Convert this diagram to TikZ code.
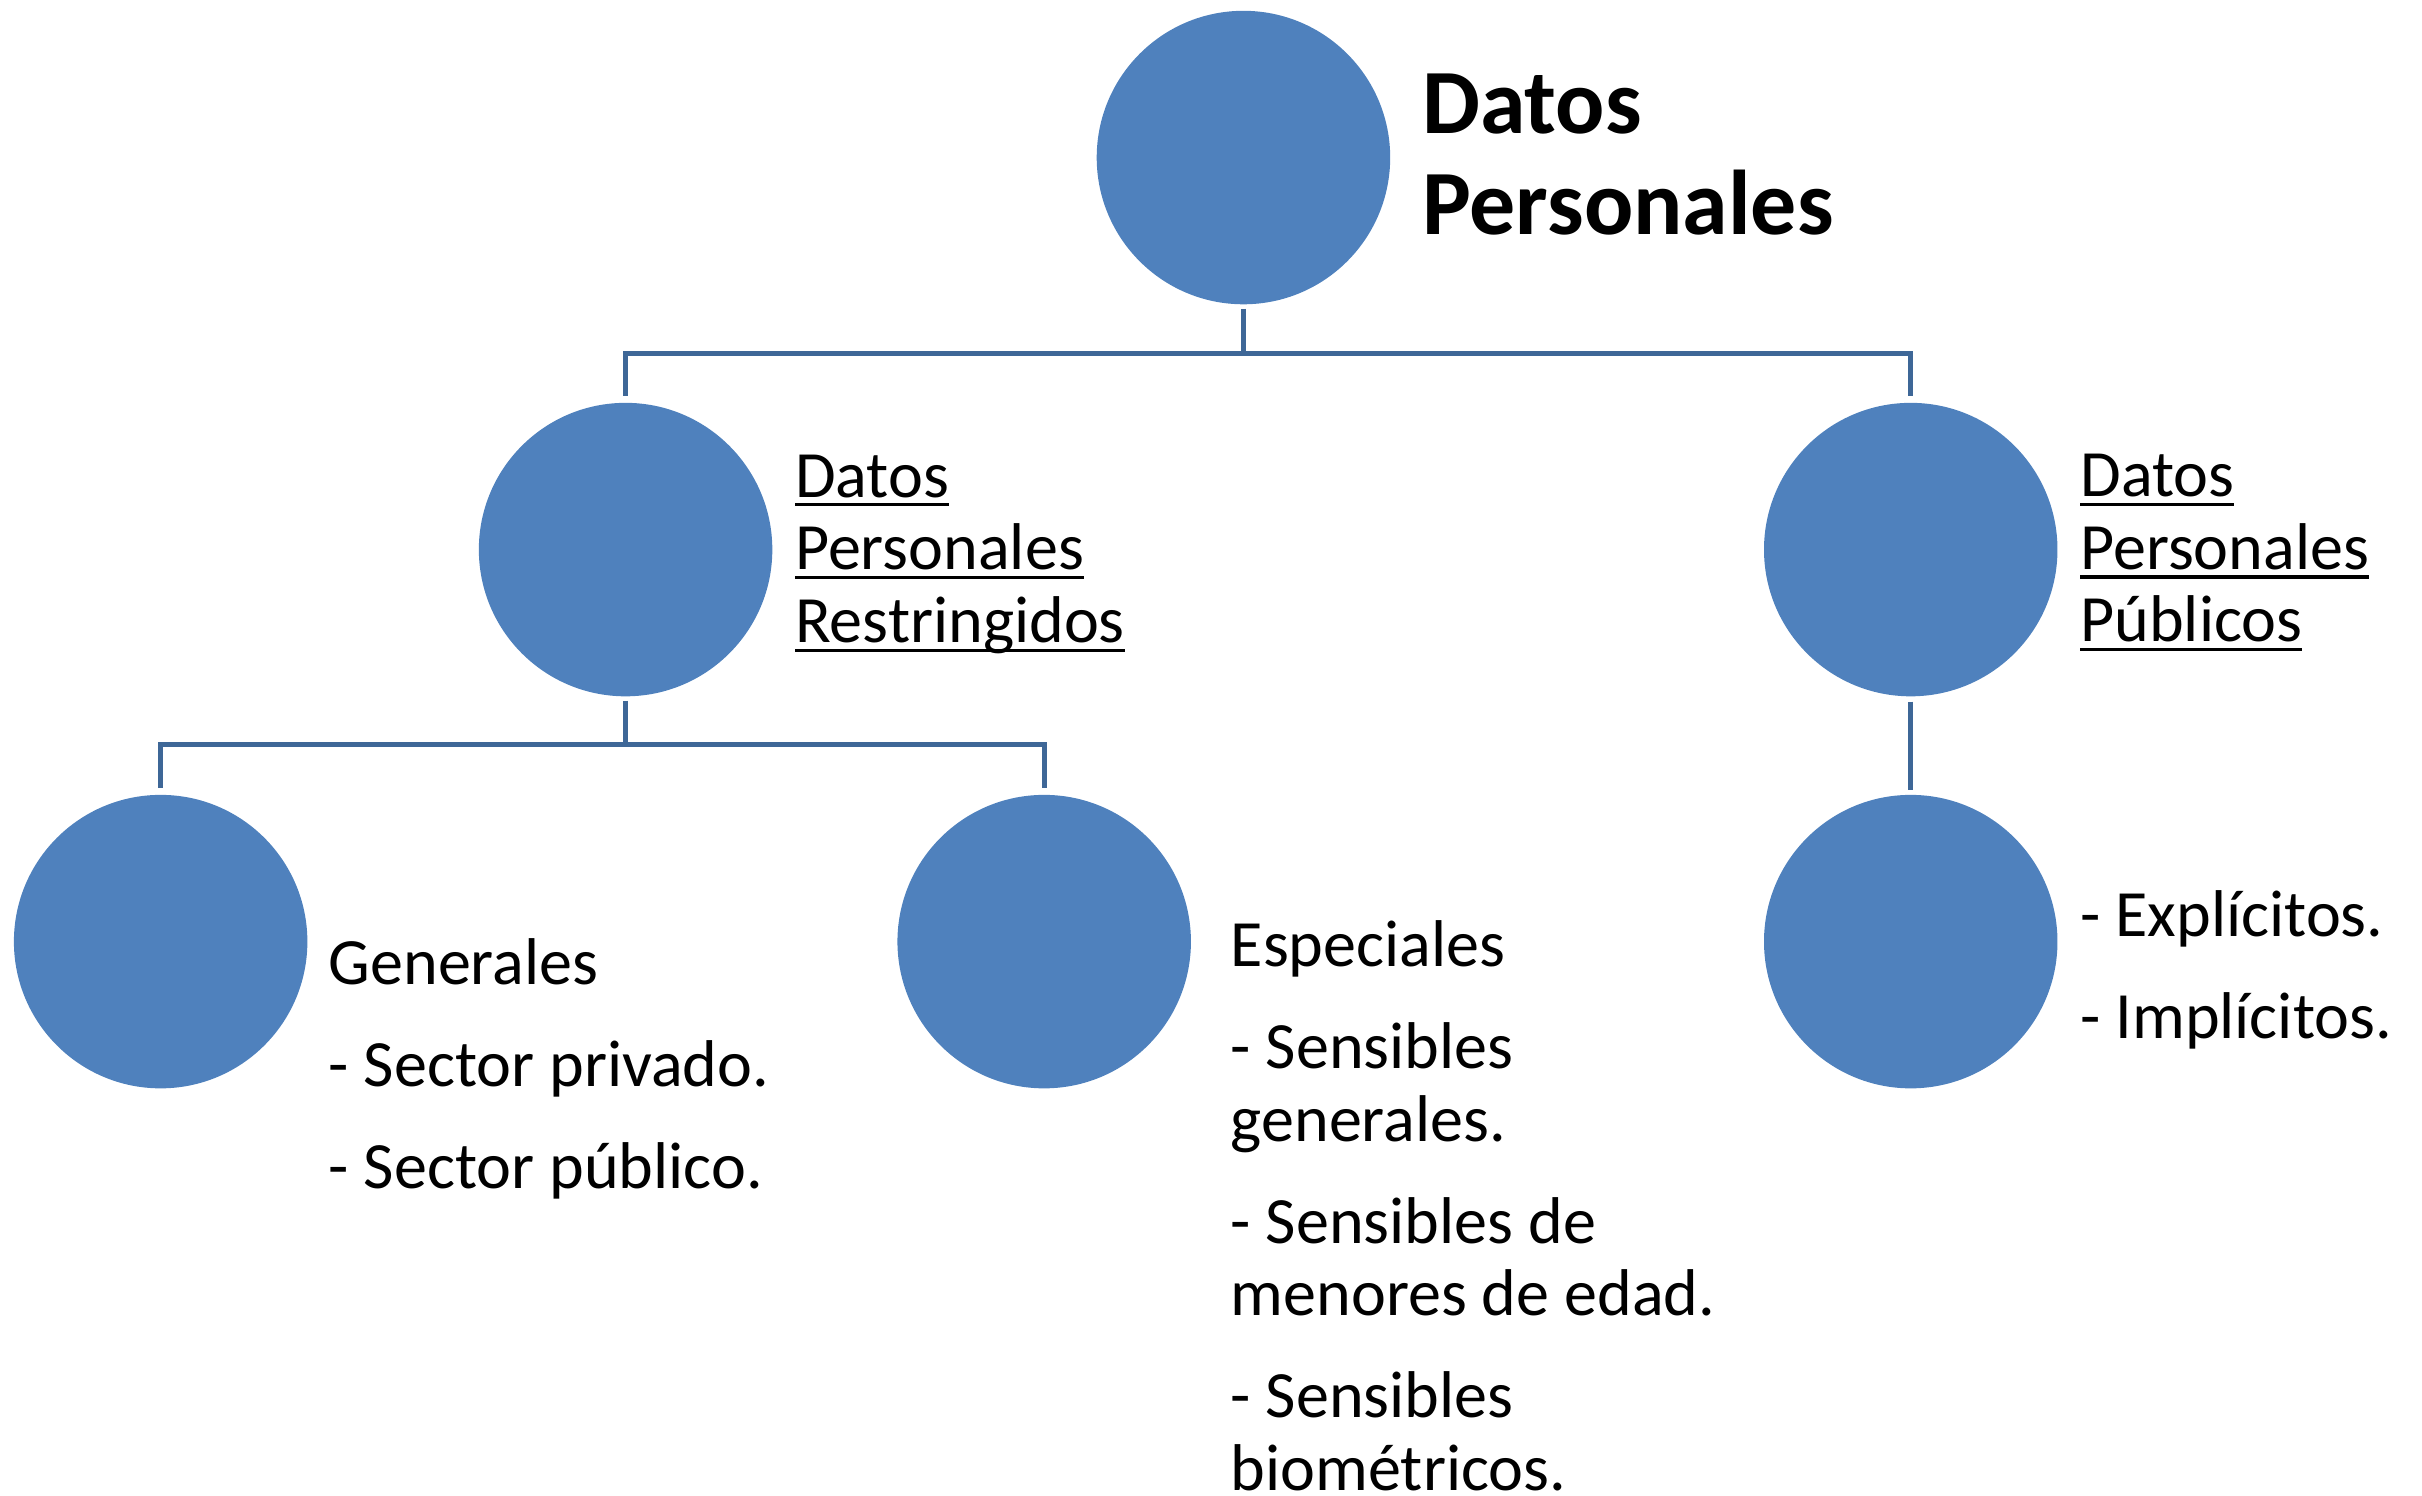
\documentclass[tikz,border=0pt]{standalone}
\usepackage{fontspec}
\setmainfont{Carlito}
\usepackage{tikz}
\usetikzlibrary{positioning}

\definecolor{circblue}{HTML}{4F81BD}
\definecolor{linkblue}{HTML}{3E6797}
\newcommand{\ulline}[1]{\setbox0\hbox{#1}\rlap{\rule[-3pt]{\wd0}{1pt}}\box0}

\begin{document}
\begin{tikzpicture}[
  node distance=31.5pt,
  circnode/.style={circle,fill=circblue,minimum size=95pt,inner sep=0pt},
  link/.style={draw=linkblue,line width=1.7pt,shorten <=1.3pt,shorten >=2pt},
  head/.style={align=left,inner sep=0pt,font=\fontsize{29.75pt}{32.5pt}\selectfont\bfseries},
  txt/.style={align=left,inner sep=0pt,font=\fontsize{21.4pt}{23.5pt}\selectfont}
    ]
\useasboundingbox (0,0) rectangle (784pt,-484pt);

\node[circnode] (dp) at (402.5pt,-51pt) {};
\node[circnode,below=of dp,xshift=-200pt] (dr) {};
\node[circnode,below=of dp,xshift=216pt] (du) {};
\node[circnode,below=of dr,xshift=-150.5pt] (dg) {};
\node[circnode,below=of dr,xshift=135.5pt] (de) {};
\node[circnode,below=of du] (dx) {};

% labels (base = last line)
\node[head,right=10pt of dp,yshift=1pt] (tdp) {Datos\\Personales};
\node[txt,right=7pt of dr,yshift=-1.5pt] (tdr) {\ulline{Datos}\\\ulline{Personales}\\\ulline{Restringidos}};
\node[txt,right=7pt of du,yshift=-1pt] (tdu) {\ulline{Datos}\\\ulline{Personales}\\\ulline{Públicos}};
\node[txt,right=6.5pt of dg,anchor=base west,yshift=-79.9pt] (tdg) {Generales\\[9.5pt]- Sector privado.\\[9.5pt]- Sector público.};
\node[txt,right=12.5pt of de,anchor=base west,yshift=-177.6pt] (tde) {Especiales\\[9.5pt]- Sensibles\\generales.\\[9.5pt]- Sensibles de\\menores de edad.\\[9.5pt]- Sensibles\\biométricos.};
\node[txt,right=7pt of dx,anchor=base west,yshift=-31.5pt] (tdx) {- Explícitos.\\[9.5pt]- Implícitos.};

\draw[link] (dp.south) -- ++(0,-15.7pt) -| (dr.north);
\draw[link] (dp.south) -- ++(0,-15.7pt) -| (du.north);
\draw[link] (dr.south) -- ++(0,-15.5pt) -| (dg.north);
\draw[link] (dr.south) -- ++(0,-15.5pt) -| (de.north);
\draw[link,shorten <=1.5pt,shorten >=1.5pt] (du.south) -- (dx.north);

\end{tikzpicture}
\end{document}
